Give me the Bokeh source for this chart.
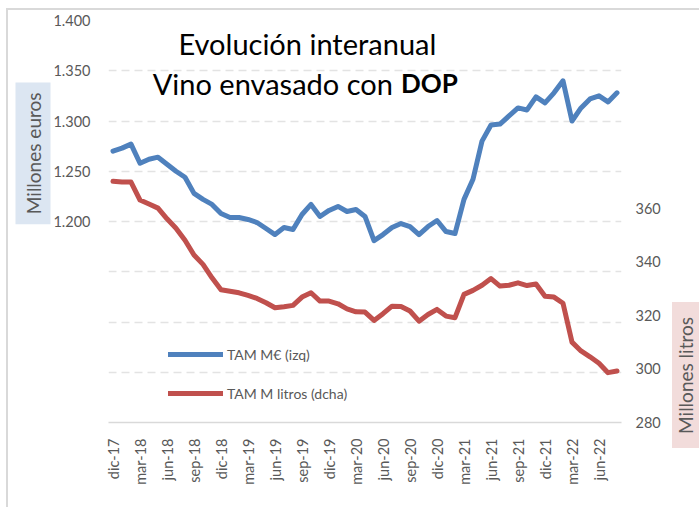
import math
from bokeh.plotting import figure
from bokeh.layouts import row
from bokeh.models import Range1d, LinearAxis, FixedTicker, Label, Legend, LegendItem, Title, Div
from bokeh.embed import file_html
from bokeh.resources import INLINE

# ---------------- data ----------------
MES = ["ene", "feb", "mar", "abr", "may", "jun", "jul", "ago", "sep", "oct", "nov", "dic"]
months = (["dic-17"]
          + [f"{m}-{y}" for y in ("18", "19", "20", "21") for m in MES]
          + [f"{m}-22" for m in MES[:8]])

# TAM millones de euros (eje izquierdo)
euros = [1270, 1273, 1277, 1258, 1262, 1264, 1257, 1250, 1244, 1228,
         1222, 1217, 1208, 1204, 1204, 1202, 1199, 1193, 1187, 1194,
         1192, 1207, 1217, 1205, 1211, 1215, 1210, 1212, 1205, 1181,
         1187, 1194, 1198, 1195, 1187, 1195, 1201, 1190, 1188, 1222,
         1242, 1280, 1296, 1297, 1305, 1313, 1311, 1324, 1318, 1328,
         1340, 1300, 1313, 1322, 1325, 1319, 1328]

# TAM millones de litros (eje derecho)
litros = [370.0, 369.7, 369.7, 363.0, 361.5, 360.0, 356.0, 352.5, 348.0, 342.5,
          339.0, 334.0, 329.5, 329.0, 328.4, 327.4, 326.3, 324.7, 322.8, 323.2,
          323.7, 326.8, 328.4, 325.3, 325.3, 324.3, 322.4, 321.3, 321.2, 318.1,
          320.6, 323.4, 323.3, 321.6, 317.8, 320.3, 322.2, 319.7, 319.1, 327.8,
          329.3, 331.2, 333.7, 330.9, 331.2, 332.1, 331.1, 331.7, 327.1, 326.8,
          324.5, 310.0, 306.7, 304.5, 302.1, 298.6, 299.2]

left_ticks = [1000, 1050, 1100, 1150, 1200, 1250, 1300, 1350, 1400]
left_labels = ["", "", "", "", "1.200", "1.250", "1.300", "1.350", "1.400"]
right_ticks = [280, 300, 320, 340, 360]
x_tick_idx = list(range(0, len(months), 3))

series_names = ["TAM M€ (izq)", "TAM M litros (dcha)"]
left_title = "Millones euros"
right_title = "Millones litros"

# ---------------- style ----------------
BLUE = "#4f81bd"
RED = "#c0504d"
GRAY_TXT = "#595959"
FONT = "Lato"

x = list(range(len(months)))

p = figure(width=672, height=507,
           x_range=Range1d(-0.5, len(months) - 0.5),
           y_range=Range1d(1000, 1400),
           output_backend="svg", toolbar_location=None,
           min_border_left=108, min_border_right=51,
           min_border_top=20, min_border_bottom=85)
p.extra_y_ranges = {"right": Range1d(280, 430)}
p.outline_line_color = None
p.background_fill_alpha = 0
p.border_fill_alpha = 0

# x axis
xa = p.xaxis[0]
xa.ticker = FixedTicker(ticks=x_tick_idx)
xa.major_label_overrides = {i: months[i] for i in x_tick_idx}
xa.major_label_orientation = math.pi / 2
xa.axis_line_color = "#d9d9d9"
xa.axis_line_width = 1.5
xa.major_tick_line_color = None
xa.minor_tick_line_color = None
xa.major_label_standoff = 10
xa.major_label_text_font = FONT
xa.major_label_text_font_size = "14.5px"
xa.major_label_text_color = GRAY_TXT

# left axis
ya = p.yaxis[0]
ya.ticker = FixedTicker(ticks=left_ticks)
ya.major_label_overrides = dict(zip(left_ticks, left_labels))
ya.axis_line_color = None
ya.major_tick_line_color = None
ya.minor_tick_line_color = None
ya.major_tick_in = 0
ya.major_tick_out = 0
ya.minor_tick_in = 0
ya.minor_tick_out = 0
ya.major_label_standoff = 18
ya.major_label_text_font = FONT
ya.major_label_text_font_size = "14.5px"
ya.major_label_text_color = GRAY_TXT

# right axis
ra = LinearAxis(y_range_name="right", ticker=FixedTicker(ticks=right_ticks))
ra.axis_line_color = None
ra.major_tick_line_color = None
ra.minor_tick_line_color = None
ra.major_tick_in = 0
ra.major_tick_out = 0
ra.minor_tick_in = 0
ra.minor_tick_out = 0
ra.major_label_standoff = 14
ra.major_label_text_font = FONT
ra.major_label_text_font_size = "14.5px"
ra.major_label_text_color = GRAY_TXT
p.add_layout(ra, "right")

# left axis title in a light-blue box (side panel)
p.add_layout(Title(text=left_title, align="right", offset=62, standoff=0,
                   text_font=FONT, text_font_size="19px", text_font_style="normal",
                   text_color=GRAY_TXT, background_fill_color="#dce6f2",
                   padding=dict(left=10, right=10, top=6, bottom=6)), "left")

# grid
p.xgrid.visible = False
p.ygrid.grid_line_color = "#e3e3e3"
p.ygrid.grid_line_width = 1.5
p.ygrid.grid_line_dash = "8 5"

# lines
r1 = p.line(x, euros, line_color=BLUE, line_width=5, line_join="round", line_cap="round")
r2 = p.line(x, litros, y_range_name="right", line_color=RED, line_width=5,
            line_join="round", line_cap="round")

legend = Legend(items=[LegendItem(label=series_names[0], renderers=[r1]),
                       LegendItem(label=series_names[1], renderers=[r2])],
                location=(60, 19), orientation="vertical",
                glyph_width=55, glyph_height=20, label_height=20, spacing=19,
                padding=0, margin=0, label_standoff=4,
                background_fill_alpha=0, border_line_color=None,
                label_text_font=FONT, label_text_font_size="14px",
                label_text_color=GRAY_TXT)
p.add_layout(legend)

# title (two lines, "DOP" in bold)
p.add_layout(Label(x=21.6, y=1377, text="Evolución interanual", text_align="center",
                   text_baseline="alphabetic", text_font=FONT, text_font_size="29px",
                   text_color="black"))
p.add_layout(Label(x=31.1, y=1337.5, text="Vino envasado con", text_align="right",
                   text_baseline="alphabetic", text_font=FONT, text_font_size="29px",
                   text_color="black"))
p.add_layout(Label(x=32.0, y=1337.5, text="DOP", text_align="left",
                   text_baseline="alphabetic", text_font=FONT, text_font_size="26px",
                   text_font_style="bold", text_color="black"))

# right axis title in a pink box (reads bottom-to-top)
right_box = Div(
    text=('<div style="width:27px;height:146px;background:#f2dcdb;display:flex;'
          'align-items:center;justify-content:center;overflow:hidden;">'
          '<span style="writing-mode:vertical-rl;transform:rotate(180deg);'
          'font-family:Lato;font-size:19px;color:#595959;white-space:nowrap;'
          'line-height:1;">' + right_title + '</span></div>'),
    width=27, height=146, margin=(302, 0, 0, 0))

layout = row(p, right_box, spacing=0,
             styles={"background-color": "#ffffff",
                     "background-image": "linear-gradient(#d9d9d9, #d9d9d9), "
                                         "linear-gradient(#d9d9d9, #d9d9d9)",
                     "background-size": "100% 2px, 2px 100%",
                     "background-position": "6px 8px, 6px 8px",
                     "background-repeat": "no-repeat, no-repeat"})

open("out.html", "w").write(file_html(layout, INLINE))
